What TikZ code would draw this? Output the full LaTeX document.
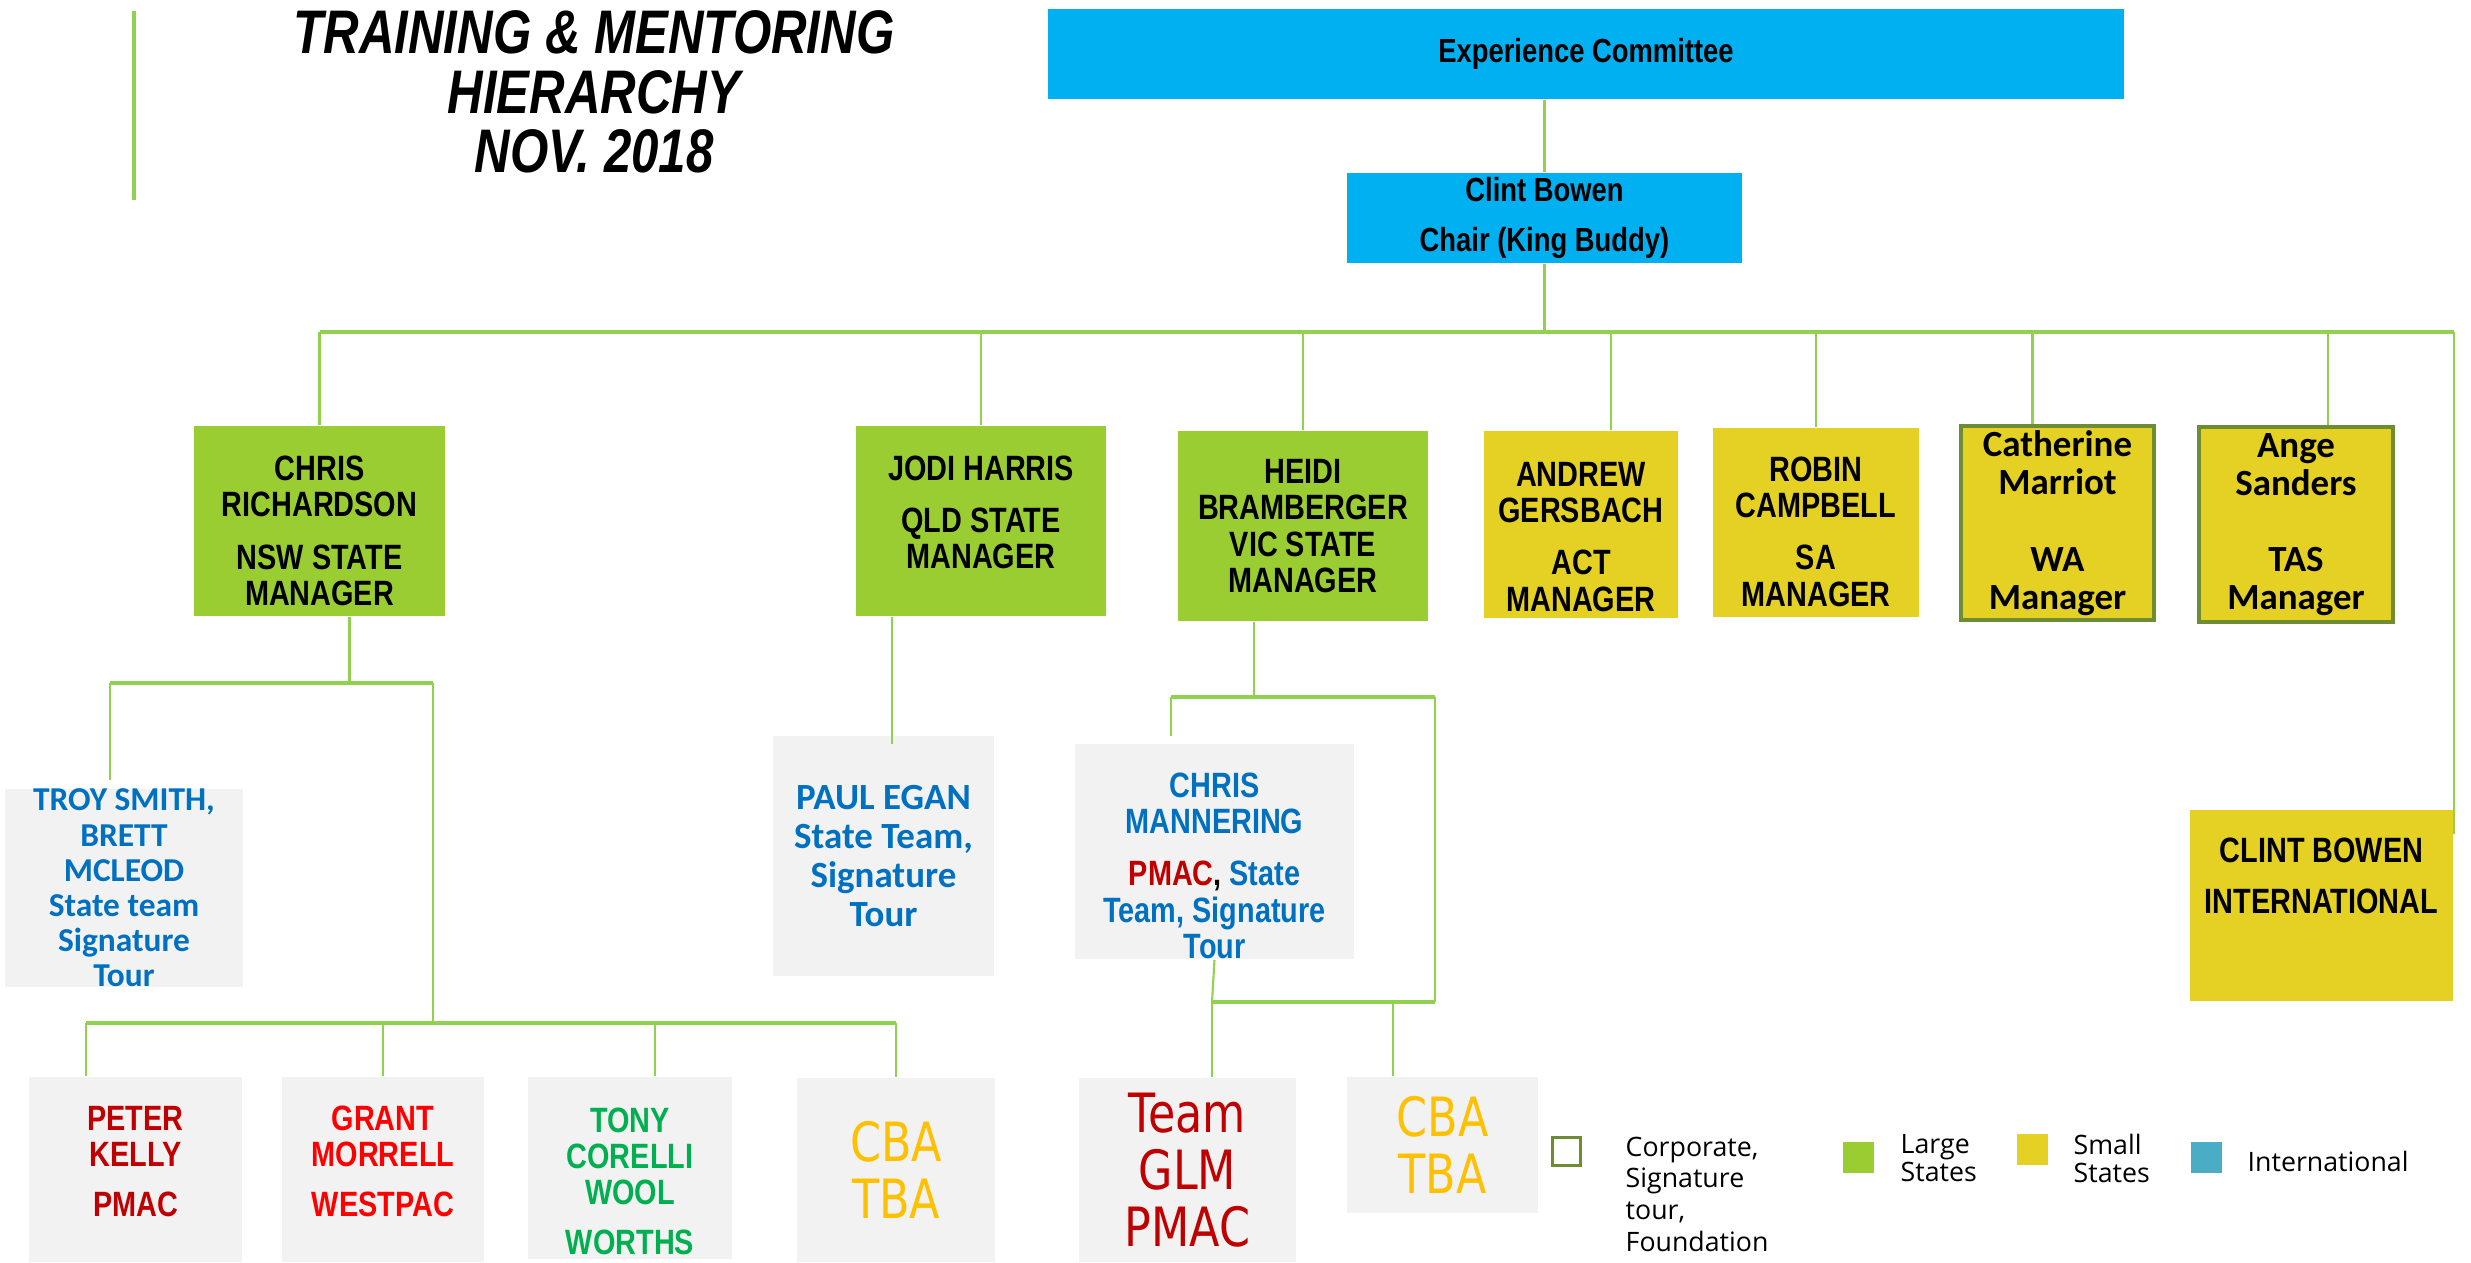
\documentclass[tikz,border=0pt]{standalone}
\usepackage{fontspec}
\setmainfont{Liberation Sans}
\newfontfamily\narrowfont[FakeStretch=0.82]{Liberation Sans}
\newfontfamily\titlefont[FakeStretch=0.8]{Liberation Sans}
\newfontfamily\calfont{Carlito}
\newfontfamily\cbafont[FakeStretch=0.82]{DejaVu Sans}
\newfontfamily\legfont{Open Sans}
\usetikzlibrary{calc}

\definecolor{expcyan}{RGB}{0,176,240}
\definecolor{largegreen}{RGB}{154,205,50}
\definecolor{smallyellow}{RGB}{228,209,36}
\definecolor{intlblue}{RGB}{75,172,198}
\definecolor{linegreen}{RGB}{146,208,80}
\definecolor{olive}{RGB}{110,140,50}
\definecolor{greybox}{RGB}{242,242,242}
\definecolor{textblue}{RGB}{0,112,192}
\definecolor{darkred}{RGB}{192,0,0}
\definecolor{brightred}{RGB}{255,0,0}
\definecolor{txtgreen}{RGB}{0,176,80}
\definecolor{amber}{RGB}{255,192,0}

\tikzset{
  orgbox/.style={rectangle,inner sep=0pt,align=center},
  cyanbox/.style={orgbox,fill=expcyan,font=\narrowfont\bfseries\fontsize{9.5}{10}\selectfont},
  largebox/.style={orgbox,fill=largegreen,font=\narrowfont\bfseries\fontsize{10}{10.3}\selectfont},
  smallbox/.style={orgbox,fill=smallyellow,font=\narrowfont\bfseries\fontsize{10}{10.3}\selectfont},
  smallboxc/.style={orgbox,fill=smallyellow,draw=olive,line width=1.1pt,font=\calfont\bfseries\fontsize{10.5}{10.8}\selectfont},
  greyblue/.style={orgbox,fill=greybox,text=textblue,font=\calfont\bfseries\fontsize{9.5}{10}\selectfont},
  greynarrow/.style={orgbox,fill=greybox,font=\narrowfont\bfseries\fontsize{10}{10.3}\selectfont},
  greycba/.style={orgbox,fill=greybox,font=\cbafont\fontsize{15.4}{16.3}\selectfont},
  keysq/.style={rectangle,inner sep=0pt,minimum width=0.31cm,minimum height=0.31cm},
  keytext/.style={inner sep=0pt,align=left,anchor=north west,font=\legfont\fontsize{7.6}{9}\selectfont}
}

\begin{document}
\begin{tikzpicture}[x=0.01cm,y=-0.01cm,
  conn/.style={linegreen,line width=0.6pt},
  busline/.style={linegreen,line width=1.1pt}]
\useasboundingbox (0,0) rectangle (2471,1262);

% title
\draw[linegreen,line width=0.9pt] (134,11) -- (134,200);
\node[inner sep=0pt,align=center,font=\titlefont\bfseries\itshape\fontsize{17.5}{17}\selectfont] (title) at (594,92)
  {TRAINING \& MENTORING\\HIERARCHY\\NOV. 2018};

% committee and chair
\node[cyanbox,minimum width=10.76cm,minimum height=0.9cm] (ec) at (1586,54) {Experience Committee};
\node[cyanbox,minimum width=3.95cm,minimum height=0.9cm] (chair) at (1544.5,218) {Clint Bowen\\[4pt]Chair (King Buddy)};

% state managers
\node[largebox,minimum width=2.51cm,minimum height=1.9cm] (nsw) at (319.5,521) {\mbox{}\\[2.3pt]CHRIS\\RICHARDSON\\[4.5pt]NSW STATE\\MANAGER};
\node[largebox,minimum width=2.5cm,minimum height=1.9cm] (qld) at (981,521) {JODI HARRIS\\[4.5pt]QLD STATE\\MANAGER\\[-5.3pt]\mbox{}};
\node[largebox,minimum width=2.5cm,minimum height=1.9cm] (vic) at (1303,526) {HEIDI\\BRAMBERGER\\VIC STATE\\MANAGER};
\node[smallbox,minimum width=1.94cm,minimum height=1.87cm] (act) at (1581,524.5) {\mbox{}\\[3.7pt]ANDREW\\GERSBACH\\[4.5pt]ACT\\MANAGER};
\node[smallbox,minimum width=2.06cm,minimum height=1.89cm] (sa) at (1816,522.5) {\mbox{}\\[1.9pt]ROBIN\\CAMPBELL\\[4.5pt]SA\\MANAGER};
\node[smallboxc,minimum width=1.93cm,minimum height=1.94cm] (wa) at (2057.5,523) {Catherine\\Marriot\\[11pt]WA\\Manager};
\node[smallboxc,minimum width=1.94cm,minimum height=1.95cm] (tas) at (2296,524.5) {Ange\\Sanders\\[11pt]TAS\\Manager};
\node[smallbox,minimum width=2.63cm,minimum height=1.91cm] (intl) at (2321.5,905.5) {CLINT BOWEN\\[4pt]INTERNATIONAL\\[6.7pt]\mbox{}};

% mentors
\node[greyblue,minimum width=2.38cm,minimum height=1.86cm] (troy) at (124,888) {TROY SMITH,\\BRETT\\MCLEOD\\State team\\Signature\\Tour};
\node[greyblue,font=\calfont\bfseries\fontsize{10.5}{11}\selectfont,minimum width=2.21cm,minimum height=2.4cm] (paul) at (883.5,856) {PAUL EGAN\\State Team,\\Signature\\Tour};
\node[greynarrow,text=textblue,minimum width=2.79cm,minimum height=2.15cm] (chrism) at (1214.5,851.5)
  {\mbox{}\\[4.9pt]CHRIS\\MANNERING\\[4.5pt]{\color{darkred}PMAC}{\color{black},} State\\Team, Signature\\Tour};

% corporate
\node[greynarrow,text=darkred,minimum width=2.13cm,minimum height=1.85cm] (peter) at (135.5,1169.5) {PETER\\KELLY\\[4pt]PMAC\\[-5.7pt]\mbox{}};
\node[greynarrow,text=brightred,minimum width=2.02cm,minimum height=1.85cm] (grant) at (383,1169.5) {GRANT\\MORRELL\\[4pt]WESTPAC\\[-5.7pt]\mbox{}};
\node[greynarrow,text=txtgreen,minimum width=2.04cm,minimum height=1.82cm] (tony) at (630,1168) {\mbox{}\\[4.3pt]TONY\\CORELLI\\WOOL\\[4pt]WORTHS};
\node[greycba,text=amber,minimum width=1.98cm,minimum height=1.84cm] (cbaone) at (896,1170) {CBA\\TBA};
\node[greycba,text=darkred,minimum width=2.17cm,minimum height=1.84cm] (glm) at (1187.5,1170) {Team\\GLM\\PMAC};
\node[greycba,text=amber,minimum width=1.91cm,minimum height=1.36cm] (cbatwo) at (1442.5,1145) {CBA\\TBA};

% connectors, top
\coordinate (bus) at (0,332);
\draw[conn] (chair.north) -- (chair.north |- ec.south);
\draw[conn] (chair.south) -- (chair.south |- bus);
\draw[busline] (nsw.north |- bus) -- (intl.north east |- bus);
\foreach \n in {nsw,qld,vic,sa}
  \draw[conn] (\n.north |- bus) -- (\n.north);
\path ($(act.north)+(30,0)$) coordinate (actin)
      ($(wa.north)+(-25,0)$) coordinate (wain)
      ($(tas.north)+(32,0)$) coordinate (tasin)
      ($(intl.north east)+(0,25)$) coordinate (intlin);
\foreach \n in {actin,wain,tasin,intlin}
  \draw[conn] (\n |- bus) -- (\n);

% connectors, NSW
\coordinate (nswL) at (110,683);
\coordinate (nswR) at (433,683);
\coordinate (nswB) at (433,1023);
\path ($(nsw.south)+(30,0)$) coordinate (nswout)
      ($(peter.north)+(-49.5,0)$) coordinate (peterin)
      ($(tony.north)+(25,0)$) coordinate (tonyin)
      ($(nswL |- troy.north)+(0,-8)$) coordinate (troyin);
\draw[conn] (nswout) -- (nswout |- nswL);
\draw[busline] (nswL) -- (nswR);
\draw[conn] (nswL) -- (troyin);
\draw[conn] (nswR) -- (nswB);
\draw[busline] (peterin |- nswB) -- (cbaone.north |- nswB);
\foreach \n in {peterin,grant.north,tonyin,cbaone.north}
  \draw[conn] (\n |- nswB) -- (\n);

% connectors, QLD
\path ($(qld.south)+(-89,0)$) coordinate (qldout);
\draw[conn] (qldout) -- ($(qldout |- paul.north)+(0,9)$);

% connectors, VIC
\coordinate (vicL) at (1171,697);
\coordinate (vicR) at (1435,697);
\coordinate (vicB) at (1435,1002);
\path ($(vic.south)+(-49,0)$) coordinate (vicout)
      ($(glm.north)+(24.5,0)$) coordinate (glmin)
      ($(cbatwo.north)+(-49.5,0)$) coordinate (cbatwoin);
\draw[conn] (vicout) -- (vicout |- vicL);
\draw[busline] (vicL) -- (vicR);
\draw[conn] (vicL) -- ($(vicL |- chrism.north)+(0,-7)$);
\draw[conn] (vicR) -- (vicB);
\draw[busline] (glmin |- vicB) -- (vicB);
\draw[conn] (chrism.south) -- (glmin |- vicB);
\draw[conn] (glmin |- vicB) -- (glmin);
\draw[conn] (cbatwoin |- vicB) -- (cbatwoin);

% legend
\node[keysq,draw=olive,line width=0.8pt,fill=white,minimum width=0.28cm,minimum height=0.28cm] (keycorp) at (1566.5,1151.5) {};
\node[keytext] (keycorptext) at (1625,1136) {Corporate,\\Signature\\tour,\\Foundation};
\node[keysq,fill=largegreen] (keylarge) at (1858.5,1157.5) {};
\node[keytext,font=\legfont\fontsize{7.6}{8}\selectfont] (keylargetext) at (1900,1134) {Large\\States};
\node[keysq,fill=smallyellow] (keysmall) at (2032.5,1149.5) {};
\node[keytext,font=\legfont\fontsize{7.6}{8}\selectfont] (keysmalltext) at (2073,1133) {Small\\States};
\node[keysq,fill=intlblue] (keyintl) at (2206.5,1157.5) {};
\node[keytext] (keyintltext) at (2247,1150) {International};

\end{tikzpicture}
\end{document}
